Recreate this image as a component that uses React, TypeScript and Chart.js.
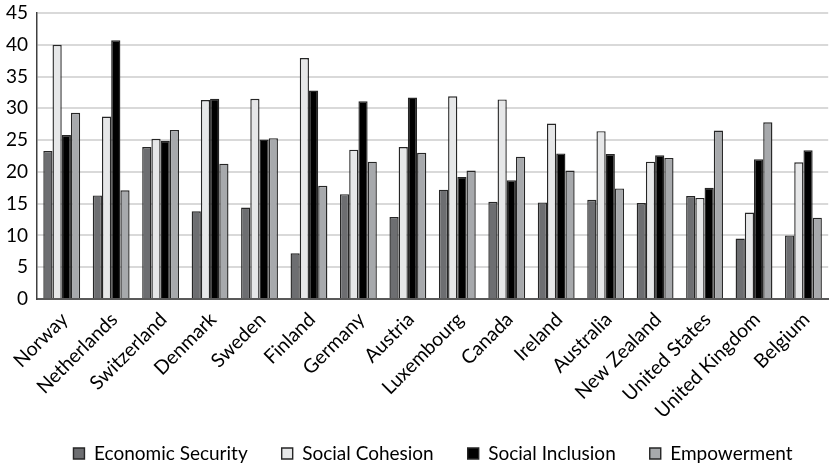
import React, { useEffect, useRef } from "react";
import { Chart, registerables } from "chart.js";

Chart.register(...registerables);

const countries = [
  "Norway", "Netherlands", "Switzerland", "Denmark", "Sweden", "Finland",
  "Germany", "Austria", "Luxembourg", "Canada", "Ireland", "Australia",
  "New Zealand", "United States", "United Kingdom", "Belgium",
];

const economicSecurity = [23.3, 16.3, 23.9, 13.8, 14.4, 7.2, 16.5, 12.9, 17.2, 15.3, 15.2, 15.6, 15.1, 16.2, 9.5, 10.0];
const socialCohesion = [40.0, 28.7, 25.2, 31.3, 31.5, 37.9, 23.5, 23.9, 31.9, 31.4, 27.6, 26.4, 21.6, 15.9, 13.6, 21.5];
const socialInclusion = [25.8, 40.7, 24.9, 31.5, 25.1, 32.8, 31.1, 31.7, 19.2, 18.7, 22.9, 22.8, 22.6, 17.5, 22.0, 23.4];
const empowerment = [29.3, 17.1, 26.6, 21.3, 25.3, 17.8, 21.6, 23.0, 20.2, 22.4, 20.2, 17.4, 22.2, 26.5, 27.8, 12.8];

const yTicks = [0, 5, 10, 15, 20, 25, 30, 35, 40, 45];

const FONT = "Lato, 'Open Sans', sans-serif";

// centre the legend row under the plot area and set its vertical place
const legendShift = {
  id: "legendShift",
  afterLayout(chart: any) {
    const lg = chart.legend;
    if (!lg) return;
    lg.left += chart.chartArea.left;
    lg.top -= 7;
    lg.bottom -= 7;
  },
};

export default function App() {
  const ref = useRef<HTMLCanvasElement | null>(null);

  useEffect(() => {
    document.body.style.margin = "0";
    if (!ref.current) return;
    const mk = (label: string, data: number[], fill: string) => ({
      label,
      data,
      backgroundColor: fill,
      borderColor: "#262626",
      borderWidth: 1.4,
      borderSkipped: "bottom" as const,
    });
    const chart = new Chart(ref.current, {
      type: "bar",
      data: {
        labels: countries,
        datasets: [
          mk("Economic Security", economicSecurity, "#6d6e71"),
          mk("Social Cohesion", socialCohesion, "#e6e7e8"),
          mk("Social Inclusion", socialInclusion, "#000000"),
          mk("Empowerment", empowerment, "#a7a9ac"),
        ],
      },
      options: {
        responsive: false,
        animation: false,
        layout: { padding: { top: 0, right: 0, left: 0, bottom: -12 } },
        datasets: { bar: { categoryPercentage: 0.745, barPercentage: 1 } },
        plugins: {
          tooltip: { enabled: false },
          legend: {
            position: "bottom",
            labels: {
              font: { family: FONT, size: 19 },
              color: "#000",
              boxWidth: 11,
              boxHeight: 11,
              padding: 34,
            },
          },
        },
        scales: {
          x: {
            grid: { display: false, drawTicks: false },
            border: { color: "#595959", width: 2 },
            ticks: {
              font: { family: FONT, size: 19.5 },
              color: "#000",
              minRotation: 45,
              maxRotation: 45,
              padding: 9,
              labelOffset: 3,
              autoSkip: false,
            },
            afterFit: (s: any) => { s.height = 118; },
          },
          y: {
            min: 0,
            max: 45,
            afterBuildTicks: (s: any) => { s.ticks = yTicks.map((v) => ({ value: v })); },
            grid: { color: "#d9d9d9", lineWidth: 2, drawTicks: false },
            border: { color: "#404040", width: 1.5 },
            ticks: {
              font: { family: FONT, size: 19 },
              color: "#000",
              padding: 9,
            },
            afterFit: (s: any) => {
              s.width = 37;
              s.paddingTop = 13;
            },
          },
        },
      },
      plugins: [legendShift],
    });
    return () => chart.destroy();
  }, []);

  return (
    <div style={{ width: 829, height: 468 }}>
      <canvas ref={ref} width={829} height={468} />
    </div>
  );
}
